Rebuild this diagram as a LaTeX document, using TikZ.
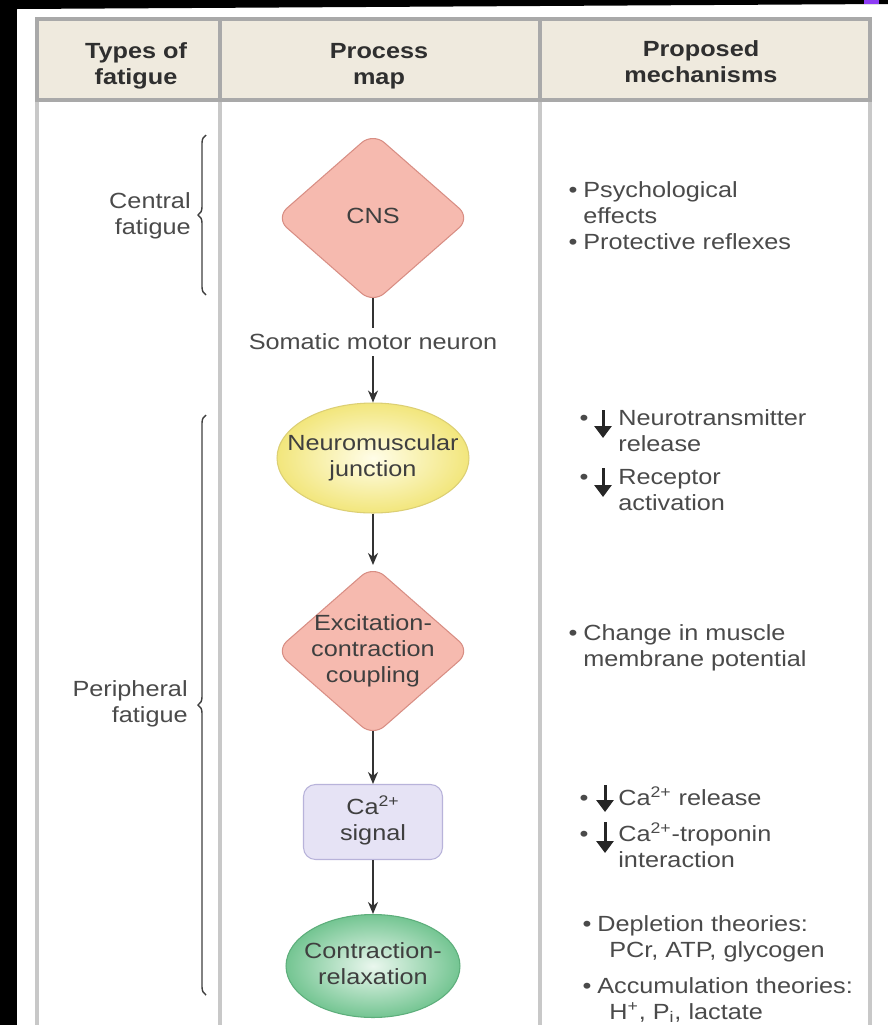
\documentclass[tikz,border=0pt]{standalone}
\usepackage{fontspec}
\setmainfont{Liberation Sans}[FakeStretch=1.15]
\usepackage{graphicx}
\usepackage{tikz}
\usetikzlibrary{arrows.meta,arrows}
\usetikzlibrary{positioning,shapes.geometric,decorations.pathreplacing}

\definecolor{hdrfill}{HTML}{EFEADE}
\definecolor{hdrline}{HTML}{A9A9A9}
\definecolor{bodyline}{HTML}{C8C8C8}
\definecolor{cnsfill}{HTML}{F6BAAF}
\definecolor{cnsdraw}{HTML}{D88E84}
\definecolor{nmjin}{HTML}{FFFDE8}
\definecolor{nmjout}{HTML}{F2E67C}
\definecolor{nmjdraw}{HTML}{DCCF74}
\definecolor{cafill}{HTML}{E6E3F5}
\definecolor{cadraw}{HTML}{B8B3DA}
\definecolor{crin}{HTML}{EAF7EE}
\definecolor{crout}{HTML}{74C592}
\definecolor{crdraw}{HTML}{5DAE7B}
\definecolor{txtgray}{HTML}{4A4A4A}
\definecolor{shapetxt}{HTML}{3F3F3F}
\definecolor{hdrtxt}{HTML}{2F2F2F}
\definecolor{arrowgray}{HTML}{333333}
\definecolor{cornerpurple}{HTML}{8E3CF5}

\newcommand{\bodyfont}{\fontsize{12.5}{14.8}\selectfont}
\newcommand{\inshape}[1]{\makebox[0pt]{\begin{tabular}{@{}c@{}}#1\end{tabular}}}
\newcommand{\smallbul}{\textbullet}
\newcommand{\bul}{\llap{\smallbul\hspace{0.12cm}}}
\newcommand{\bularr}{\llap{\smallbul\hspace{0.6cm}}}

\tikzset{
    flowdiamond/.style={diamond, rounded corners=0.3cm, draw=cnsdraw, fill=cnsfill,
        line width=0.6pt, minimum width=3.9cm, minimum height=3.42cm, inner sep=0pt},
    nmjoval/.style={ellipse, draw=nmjdraw, inner color=nmjin, outer color=nmjout,
        line width=0.6pt, minimum width=3.84cm, minimum height=2.2cm, inner sep=0pt},
    casignal/.style={rectangle, rounded corners=0.24cm, draw=cadraw, fill=cafill,
        line width=0.6pt, minimum width=2.78cm, minimum height=1.5cm, inner sep=0pt},
    croval/.style={ellipse, draw=crdraw, inner color=crin, outer color=crout,
        line width=0.6pt, minimum width=3.48cm, minimum height=2.06cm, inner sep=0pt},
    mech/.style={anchor=west, align=left, font=\bodyfont, text=txtgray, inner sep=0pt},
    typelbl/.style={anchor=east, align=right, font=\bodyfont, text=txtgray, inner sep=0pt},
    fbrace/.style={decorate, decoration={brace, amplitude=0.16cm}, draw=black!75, line width=0.8pt},
    decr/.style={-{Triangle[length=0.24cm,width=0.34cm]}, line width=0.06cm, draw=black!85}
}

\begin{document}
    \begin{tikzpicture}[x=0.02cm, y=-0.02cm]

        \useasboundingbox (0,0) rectangle (888,1025);
        \fill[white] (0,0) rectangle (888,1025);
        \fill[black] (0,0) rectangle (17,1025);
        \fill[black] (0,0) -- (888,0) -- (888,4) -- (17,9) -- cycle;
        \fill[cornerpurple] (864,0) rectangle (879,4);

        \fill[hdrfill] (37,19) rectangle (870,100);
        \begin{scope}[line width=0.07cm]
            \draw[bodyline] (37,100) -- (37,1025);
            \draw[bodyline] (220,100) -- (220,1025);
            \draw[bodyline] (540,100) -- (540,1025);
            \draw[bodyline] (870,100) -- (870,1025);
            \draw[hdrline] (37,19) rectangle (870,100);
            \draw[hdrline] (220,19) -- (220,100);
            \draw[hdrline] (540,19) -- (540,100);
        \end{scope}

        \begin{scope}[every node/.style={font=\bodyfont\bfseries, text=hdrtxt, align=center}]
            \node (htype) at (136,66) {Types of\\fatigue};
            \node (hmap) at (379,66) {Process\\map};
            \node (hmech) at (701,62) {Proposed\\mechanisms};
        \end{scope}

        \node[typelbl] (central) at (191,216) {Central\\fatigue};
        \node[typelbl] (periph) at (188,704) {Peripheral\\fatigue};
        \draw[fbrace] (206,295) -- (206,135);
        \draw[fbrace] (206,995) -- (206,415);

        \begin{scope}[every node/.append style={font=\bodyfont, text=shapetxt}]
            \node[flowdiamond] (cns) at (373,218) {\inshape{CNS}};
            \node[inner xsep=0pt, inner ysep=0.12cm, text=txtgray] (smn) at (373,342) {Somatic motor neuron};
            \node[nmjoval] (nmj) at (373,458) {\inshape{Neuromuscular\\junction}};
            \node[flowdiamond] (ecc) at (373,651) {\inshape{Excitation-\\contraction\\coupling}};
            \node[casignal] (ca) at (373,822) {\inshape{Ca\textsuperscript{2+}\\signal}};
            \node[croval] (cr) at (373,966) {\inshape{Contraction-\\relaxation}};
        \end{scope}

        \begin{scope}[>={Stealth[length=0.24cm,width=0.2cm]},
            every edge/.style={draw=arrowgray, line width=1pt}]
            \path (cns) edge[shorten <=-0.12cm] (smn);
            \path [->] (smn) edge (nmj);
            \path [->] (nmj) edge (ecc);
            \path [->] (ecc) edge[shorten <=-0.12cm] (ca);
            \path [->] (ca) edge (cr);
        \end{scope}

        \node[mech] (psy) at (583,203) {\bul Psychological\\effects};
        \node[mech] (prot) at (583,242) {\bul Protective reflexes};
        \node[mech] (ntr) at (618,431) {\bularr Neurotransmitter\\release};
        \node[mech] (rec) at (618,490) {\bularr Receptor\\activation};
        \node[mech] (chg) at (583,648) {\bul Change in muscle\\membrane potential};
        \node[mech] (carel) at (618,796) {\bularr Ca\textsuperscript{2+} release};
        \node[mech] (trop) at (618,845) {\bularr Ca\textsuperscript{2+}-troponin\\interaction};
        \node[mech] (dep) at (597,939) {\bul Depletion theories:\\\hspace*{0.24cm}PCr, ATP, glycogen};
        \node[mech] (acc) at (597,1000) {\bul Accumulation theories:\\\hspace*{0.24cm}H\textsuperscript{+}, P\textsubscript{i}, lactate};

        \draw[decr] (603,410) -- (603,438);
        \draw[decr] (603,468) -- (603,497);
        \draw[decr] (605,785) -- (605,812);
        \draw[decr] (605,822) -- (605,853);

    \end{tikzpicture}
\end{document}
